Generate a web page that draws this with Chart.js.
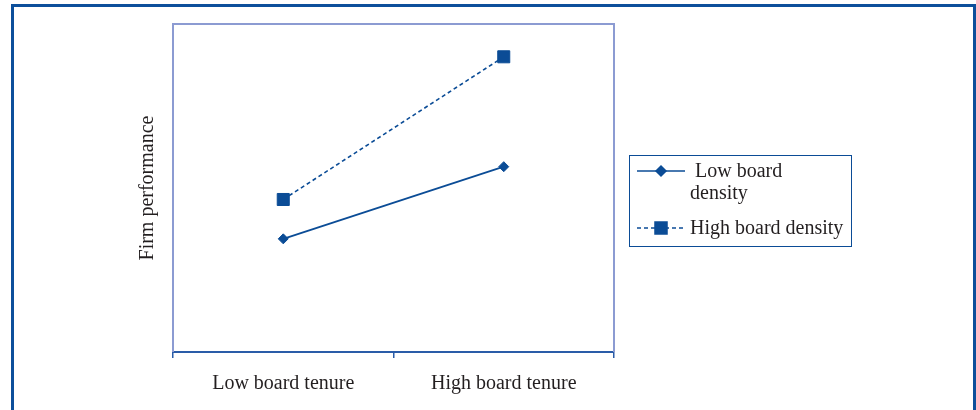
<!DOCTYPE html>
<html>
<head>
<meta charset="utf-8">
<script src="https://cdn.jsdelivr.net/npm/chart.js@4"></script>
<style>
  html, body { margin: 0; padding: 0; background: #fff; overflow: hidden; }
  #wrap { position: relative; width: 976px; height: 410px; }
  #frame { position: absolute; left: 11px; top: 4px; width: 959px; height: 430px;
           border: 3px solid #0d4f9b; pointer-events: none; }
</style>
</head>
<body>
<div id="wrap">
  <canvas id="myChart" width="976" height="410"></canvas>
  <div id="frame"></div>
</div>
<script>
// data (y axis has no scale, 0-10 arbitrary units)
const categories = ['Low board tenure', 'High board tenure'];
const lowDensity = [3.45, 5.65];
const highDensity = [4.65, 9.0];
const seriesNames = ['Low board density', 'High board density'];

const blue = '#0b4c96';
const textColor = '#231f20';
const serif = "'Liberation Serif', 'Times New Roman', serif";

// light frame around plot area (left, top, right)
const plotFrame = {
    id: 'plotFrame',
    beforeDatasetsDraw(chart) {
        const a = chart.chartArea;
        const ctx = chart.ctx;
        ctx.save();
        ctx.strokeStyle = '#8c9bd2';
        ctx.lineWidth = 2;
        ctx.beginPath();
        ctx.moveTo(a.left, a.bottom);
        ctx.lineTo(a.left, a.top);
        ctx.lineTo(a.right, a.top);
        ctx.lineTo(a.right, a.bottom);
        ctx.stroke();
        ctx.restore();
    }
};

// boxed legend to the right, first label wraps onto two lines
const boxLegend = {
    id: 'boxLegend',
    afterDraw(chart) {
        const ctx = chart.ctx;
        ctx.save();
        ctx.strokeStyle = blue;
        ctx.lineWidth = 1;
        ctx.strokeRect(629.5, 155.5, 222, 91);

        ctx.strokeStyle = blue;
        ctx.fillStyle = blue;
        ctx.lineWidth = 1.5;
        // entry 1
        ctx.beginPath();
        ctx.moveTo(637, 171);
        ctx.lineTo(685, 171);
        ctx.stroke();
        Chart.helpers.drawPoint(ctx, {pointStyle: 'rectRot', radius: 5, borderWidth: 1}, 661, 171);
        ctx.fill();
        // entry 2
        ctx.setLineDash([4, 3]);
        ctx.beginPath();
        ctx.moveTo(637, 228);
        ctx.lineTo(685, 228);
        ctx.stroke();
        ctx.setLineDash([]);
        Chart.helpers.drawPoint(ctx, {pointStyle: 'rect', radius: 8.5, borderWidth: 1}, 661, 228);
        ctx.fill();

        ctx.fillStyle = textColor;
        ctx.font = '20px ' + serif;
        ctx.textBaseline = 'middle';
        ctx.fillText('Low board', 695, 172);
        ctx.fillText('density', 690, 194);
        ctx.fillText(seriesNames[1], 690, 229);
        ctx.restore();
    }
};

const ctx = document.getElementById('myChart').getContext('2d');
new Chart(ctx, {
    type: 'line',
    data: {
        labels: categories,
        datasets: [{
            label: seriesNames[0],
            data: lowDensity,
            borderColor: blue,
            backgroundColor: blue,
            borderWidth: 1.8,
            pointStyle: 'rectRot',
            pointRadius: 5,
            pointBorderWidth: 1
        }, {
            label: seriesNames[1],
            data: highDensity,
            borderColor: blue,
            backgroundColor: blue,
            borderWidth: 1.6,
            borderDash: [4, 3],
            pointStyle: 'rect',
            pointRadius: 8.5,
            pointBorderWidth: 1
        }]
    },
    options: {
        responsive: false,
        animation: false,
        layout: { padding: { left: 132, top: 24, right: 362, bottom: 0 } },
        plugins: {
            legend: { display: false },
            tooltip: { enabled: false }
        },
        scales: {
            x: {
                type: 'category',
                offset: true,
                grid: {
                    offset: true,
                    drawOnChartArea: false,
                    tickLength: 6,
                    color: '#2a5ca8',
                    lineWidth: 1.5
                },
                border: { display: true, color: '#2a5ca8', width: 2 },
                ticks: {
                    color: textColor,
                    padding: 14,
                    maxRotation: 0,
                    font: { family: serif, size: 20 }
                },
                afterFit(scale) { scale.height = 58; }
            },
            y: {
                min: 0,
                max: 10,
                grid: { display: false },
                border: { display: false },
                ticks: { display: false },
                title: {
                    display: true,
                    text: 'Firm performance',
                    color: textColor,
                    font: { family: serif, size: 20 }
                },
                afterFit(scale) { scale.width = 41; }
            }
        }
    },
    plugins: [plotFrame, boxLegend]
});
</script>
</body>
</html>
